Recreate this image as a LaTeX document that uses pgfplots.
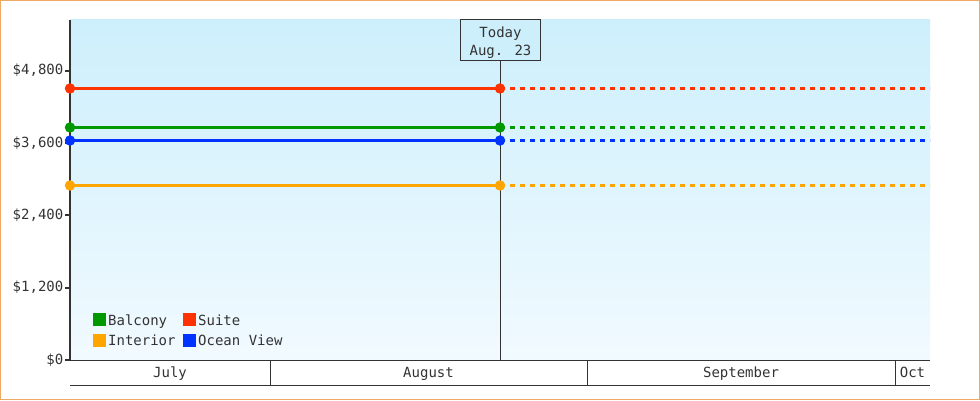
\documentclass[border=0pt]{standalone}
\usepackage{fontspec}
\setmainfont{DejaVu Sans Mono}
\usepackage{pgfplots}
\pgfplotsset{compat=1.18}
\definecolor{bgtop}{RGB}{205,239,252}
\definecolor{bgbot}{RGB}{241,250,255}
\definecolor{frame}{RGB}{236,170,100}
\definecolor{ink}{RGB}{51,51,51}
\definecolor{cBal}{RGB}{0,153,0}
\definecolor{cSui}{RGB}{255,51,0}
\definecolor{cInt}{RGB}{255,165,0}
\definecolor{cOce}{RGB}{0,51,255}

% days counted from Aug. 1 (day 0)
\def\today{22.45}

\begin{document}
\begin{tikzpicture}[x=1bp,y=1bp,font=\fontsize{14bp}{18bp}\selectfont]
\useasboundingbox (0,0) rectangle (980,400);
\fill[white] (0,0) rectangle (980,400);
\draw[frame, line width=1.5bp] (0.75,0.75) rectangle (979.25,399.25);
\begin{axis}[
  at={(70bp,40bp)}, anchor=south west,
  width=860bp, height=340bp, scale only axis,
  xmin=-19.52, xmax=64.42, ymin=0, ymax=5640,
  axis x line=none, axis y line*=left,
  y axis line style={ink, line width=2bp},
  axis background/.style={top color=bgtop, bottom color=bgbot},
  xtick=\empty,
  ytick={0,1200,2400,3600,4800},
  yticklabels={{\$0},{\$1,200},{\$2,400},{\$3,600},{\$4,800}},
  yticklabel style={ink, inner sep=1.5bp},
  ytick style={ink, line width=2bp},
  tick align=outside, major tick length=5bp,
  clip=false,
  legend columns=2,
  legend cell align=left,
  legend image code/.code={\fill[#1, solid] (0bp,-4bp) rectangle (10bp,6bp);},
  legend style={draw=none, fill=none, at={(rel axis cs:0.0267,0.138)}, anchor=north west,
    inner sep=0pt, row sep=7bp, nodes={inner sep=0pt, text=ink},
    /tikz/every odd column/.style={column sep=2bp},
    /tikz/every even column/.style={column sep=7.6bp}},
  every axis plot/.append style={line width=3bp, mark size=3.6bp},
]
% today line
\addplot[ink, line width=1bp, forget plot] coordinates {(\today,0) (\today,5640)};
% projected (dashed)
\addplot[cBal, dash pattern=on 5bp off 5bp, forget plot] coordinates {(\today,3857) (64.42,3857)};
\addplot[cSui, dash pattern=on 5bp off 5bp, forget plot] coordinates {(\today,4504) (64.42,4504)};
\addplot[cInt, dash pattern=on 5bp off 5bp, forget plot] coordinates {(\today,2895) (64.42,2895)};
\addplot[cOce, dash pattern=on 5bp off 5bp, forget plot] coordinates {(\today,3641) (64.42,3641)};
% observed
\addplot[cBal, mark=*] coordinates {(-19.52,3857) (\today,3857)};
\addplot[cSui, mark=*] coordinates {(-19.52,4504) (\today,4504)};
\addplot[cInt, mark=*] coordinates {(-19.52,2895) (\today,2895)};
\addplot[cOce, mark=*] coordinates {(-19.52,3641) (\today,3641)};
\legend{Balcony,Suite,Interior,Ocean View}
\end{axis}
% today box
\draw[ink, line width=1bp, fill=bgtop] (460.3,339.3) rectangle (540.7,380);
\node[ink, anchor=base] at (500.5,362.7) {Today};
\node[ink, anchor=base] at (500.5,345) {Aug. 23};
% month band
\draw[ink, line width=1bp] (70,40) -- (930,40) (70,15) -- (930,15)
  (270,15) -- (270,40) (587,15) -- (587,40) (895,15) -- (895,40);
\node[ink, anchor=base] at (170,23) {July};
\node[ink, anchor=base] at (428.5,23) {August};
\node[ink, anchor=base] at (741,23) {September};
\node[ink, anchor=base] at (912.5,23) {Oct};
\end{tikzpicture}
\end{document}
